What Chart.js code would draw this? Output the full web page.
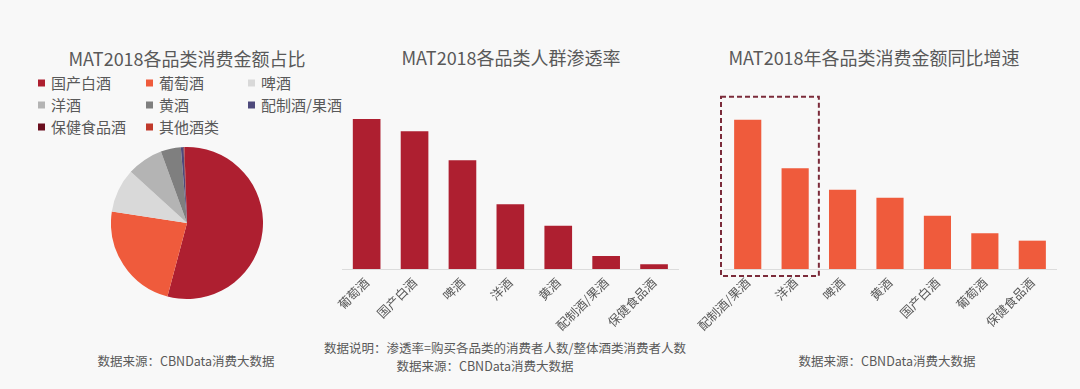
<!DOCTYPE html>
<html><head><meta charset="utf-8">
<script src="https://cdn.jsdelivr.net/npm/chart.js@4/dist/chart.umd.min.js"></script>
<style>
html,body{margin:0;padding:0;background:#f8f8f8;}
body{width:1080px;height:389px;position:relative;overflow:hidden;font-family:"Noto Sans CJK SC","Noto Sans",sans-serif;color:#595959;}
.t{position:absolute;white-space:nowrap;transform:translate(-50%,-50%);line-height:1;}
.title{font-size:18px;}
.foot{font-size:12.5px;}
.lg{position:absolute;font-size:15px;line-height:1;white-space:nowrap;transform:translateY(-50%);}
.lg i{display:inline-block;width:7px;height:7px;margin-right:6px;vertical-align:middle;position:relative;top:-1px;}
canvas{position:absolute;}
</style></head><body>
<div id="root"></div>
<canvas id="pie" style="left:111px;top:147px;width:152px;height:152px" width="152" height="152"></canvas>
<canvas id="pen" style="left:320px;top:60px;width:380px;height:290px" width="380" height="290"></canvas>
<canvas id="grow" style="left:690px;top:60px;width:390px;height:290px" width="390" height="290"></canvas>
<script>
// ---- data ----
const titles = ['MAT2018各品类消费金额占比', 'MAT2018各品类人群渗透率', 'MAT2018年各品类消费金额同比增速'];
const pieLabels = ['国产白酒', '葡萄酒', '啤酒', '洋酒', '黄酒', '配制酒/果酒', '保健食品酒', '其他酒类'];
const pieValues = [54.7, 23.25, 9.36, 7.67, 4.28, 0.56, 0.12, 0.06];
const penCategories = ['葡萄酒', '国产白酒', '啤酒', '洋酒', '黄酒', '配制酒/果酒', '保健食品酒'];
const penValues = [74.8, 68.7, 54.2, 32.2, 21.5, 6.3, 2.2];
const growCategories = ['配制酒/果酒', '洋酒', '啤酒', '黄酒', '国产白酒', '葡萄酒', '保健食品酒'];
const growValues = [74.4, 50.2, 39.4, 35.5, 26.5, 17.7, 14.0];
const growHighlighted = ['配制酒/果酒', '洋酒'];
const sourceNote = '数据来源：CBNData消费大数据';
const penNote = '数据说明：渗透率=购买各品类的消费者人数/整体酒类消费者人数';

// ---- styles ----
const pieColors = ['#AE1F30', '#EF5B3C', '#D9D9D9', '#B4B4B4', '#7F7F7F', '#4E4A7C', '#6A0F1E', '#C0392B'];
const FONT = '"Noto Sans CJK SC","Noto Sans",sans-serif';
const TXT = '#595959';

const root = document.getElementById('root');
function addText(cls, txt, x, y) {
  const d = document.createElement('div');
  d.className = 't ' + cls; d.textContent = txt;
  d.style.left = x + 'px'; d.style.top = y + 'px';
  root.appendChild(d);
}
addText('title', titles[0], 187, 58);
addText('title', titles[1], 511, 57);
addText('title', titles[2], 874, 57);
addText('foot', sourceNote, 186, 361);
addText('foot', penNote, 505, 348);
addText('foot', sourceNote, 485, 366);
addText('foot', sourceNote, 887, 361);

// HTML legend for pie (3 columns)
const colX = [38, 146, 248], rowY = [82, 104, 126];
pieLabels.forEach((lab, i) => {
  const d = document.createElement('div');
  d.className = 'lg';
  d.style.left = colX[i % 3] + 'px';
  d.style.top = rowY[Math.floor(i / 3)] + 'px';
  const sw = document.createElement('i'); sw.style.background = pieColors[i];
  d.appendChild(sw); d.appendChild(document.createTextNode(lab));
  root.appendChild(d);
});

Chart.defaults.font.family = FONT;
Chart.defaults.color = TXT;
Chart.defaults.animation = false;

new Chart(document.getElementById('pie'), {
  type: 'pie',
  data: { labels: pieLabels, datasets: [{ data: pieValues, backgroundColor: pieColors, borderWidth: 0, hoverOffset: 0 }] },
  options: {
    responsive: false, rotation: -2, events: [],
    layout: { padding: 0 },
    plugins: { legend: { display: false }, tooltip: { enabled: false } }
  }
});

function barOptions(padL, padR, extraPlugins) {
  return {
    responsive: false, events: [],
    layout: { padding: { left: padL, right: padR, top: 9, bottom: 0 } },
    plugins: { legend: { display: false }, tooltip: { enabled: false } },
    scales: {
      x: {
        grid: { display: false, drawTicks: false },
        border: { display: true, color: '#DCDCDC', width: 1 },
        ticks: { color: TXT, font: { size: 12.5, family: FONT }, maxRotation: 45, minRotation: 45, autoSkip: false, padding: 6 },
        afterFit: s => { s.height = 81; }
      },
      y: { display: false, min: 0, max: 100 }
    }
  };
}

new Chart(document.getElementById('pen'), {
  type: 'bar',
  data: { labels: penCategories, datasets: [{ data: penValues, backgroundColor: '#AE1F30', barThickness: 27 }] },
  options: barOptions(22.7, 22)
});

const dashBox = {
  id: 'dashBox',
  afterDatasetsDraw(chart) {
    const xs = chart.scales.x, ys = chart.scales.y;
    const idx = growHighlighted.map(c => growCategories.indexOf(c));
    const i0 = Math.min(...idx), i1 = Math.max(...idx);
    const half = (xs.getPixelForValue(1) - xs.getPixelForValue(0)) / 2;
    const maxV = Math.max(...idx.map(i => growValues[i]));
    const x0 = xs.getPixelForValue(i0) - half - 3;
    const x1 = xs.getPixelForValue(i1) + half;
    const y0 = ys.getPixelForValue(maxV) - 23.5;
    const y1 = ys.bottom + 7;
    const ctx = chart.ctx;
    ctx.save();
    ctx.strokeStyle = '#7B2B3A';
    ctx.lineWidth = 2;
    ctx.setLineDash([5, 3]);
    ctx.strokeRect(x0, y0, x1 - x0, y1 - y0);
    ctx.restore();
  }
};

new Chart(document.getElementById('grow'), {
  type: 'bar',
  data: { labels: growCategories, datasets: [{ data: growValues, backgroundColor: '#EF5B3C', barThickness: 26.5 }] },
  options: barOptions(34, 24),
  plugins: [dashBox]
});
</script>
</body></html>
